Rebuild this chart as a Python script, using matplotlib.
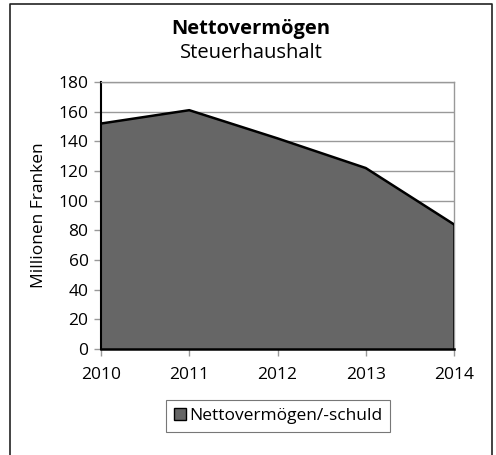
import matplotlib
matplotlib.use('Agg')
from matplotlib import pyplot as plt
from matplotlib.lines import Line2D

plt.rcParams['font.family'] = ['Open Sans', 'DejaVu Sans']

years = ['2010', '2011', '2012', '2013', '2014']
net_assets = [152, 161, 142, 122, 84]
y_ticks = [0, 20, 40, 60, 80, 100, 120, 140, 160, 180]

fig = plt.figure(figsize=(4.96, 4.55), dpi=100)
ax = fig.add_axes([101 / 496, 106 / 455, 353 / 496, 267 / 455])

x = list(range(len(years)))
ax.fill_between(x, net_assets, 0, facecolor='#666666', edgecolor='none',
                label='Nettovermögen/-schuld', zorder=2)
ax.plot(x, net_assets, color='black', linewidth=1.8, zorder=3)
ax.plot([x[-1], x[-1]], [0, net_assets[-1]], color='black', linewidth=1.8, zorder=3)

ax.set_xlim(0, len(years) - 1)
ax.set_ylim(0, 180)
ax.set_xticks(x)
ax.set_xticklabels(years, fontsize=12.5)
ax.set_yticks(y_ticks)
ax.set_yticklabels([str(v) for v in y_ticks], fontsize=12.5)
ax.yaxis.grid(True, color='#999999', linewidth=1)
ax.set_axisbelow(True)
ax.tick_params(axis='y', direction='out', length=5, width=1, color='#999999', pad=4)
ax.tick_params(axis='x', direction='out', length=5, width=1, color='#999999', pad=8)

for side in ['top', 'right']:
    ax.spines[side].set_color('#999999')
    ax.spines[side].set_linewidth(1)
ax.spines['left'].set_color('black')
ax.spines['left'].set_linewidth(1.5)
ax.spines['bottom'].set_color('black')
ax.spines['bottom'].set_linewidth(1.8)
ax.spines['bottom'].set_zorder(4)

ax.set_ylabel('Millionen Franken', fontsize=12.5, labelpad=8)

fig.text(251 / 496, 1 - 29 / 455, 'Nettovermögen', ha='center', va='center',
         fontsize=14.5, fontweight='bold')
fig.text(251 / 496, 1 - 53 / 455, 'Steuerhaushalt', ha='center', va='center',
         fontsize=14.5)

leg = fig.legend(loc='center', bbox_to_anchor=(278 / 496, 1 - 416 / 455),
                 fontsize=12.5, frameon=True, fancybox=False, handlelength=0.7,
                 handleheight=0.7, handletextpad=0.2, borderpad=0.45)
leg.get_frame().set_edgecolor('#555555')
leg.get_frame().set_linewidth(0.8)
for h in leg.legend_handles:
    h.set_edgecolor('black')
    h.set_linewidth(1)

# outer chart frame (no bottom edge visible)
fx0, fx1, fy1 = 10 / 496, 492 / 496, 1 - 4 / 455
fig.add_artist(Line2D([fx0, fx0, fx1, fx1], [0, fy1, fy1, 0],
                      transform=fig.transFigure, color='#222222', linewidth=1.2))

plt.savefig('out.png', dpi=100)
